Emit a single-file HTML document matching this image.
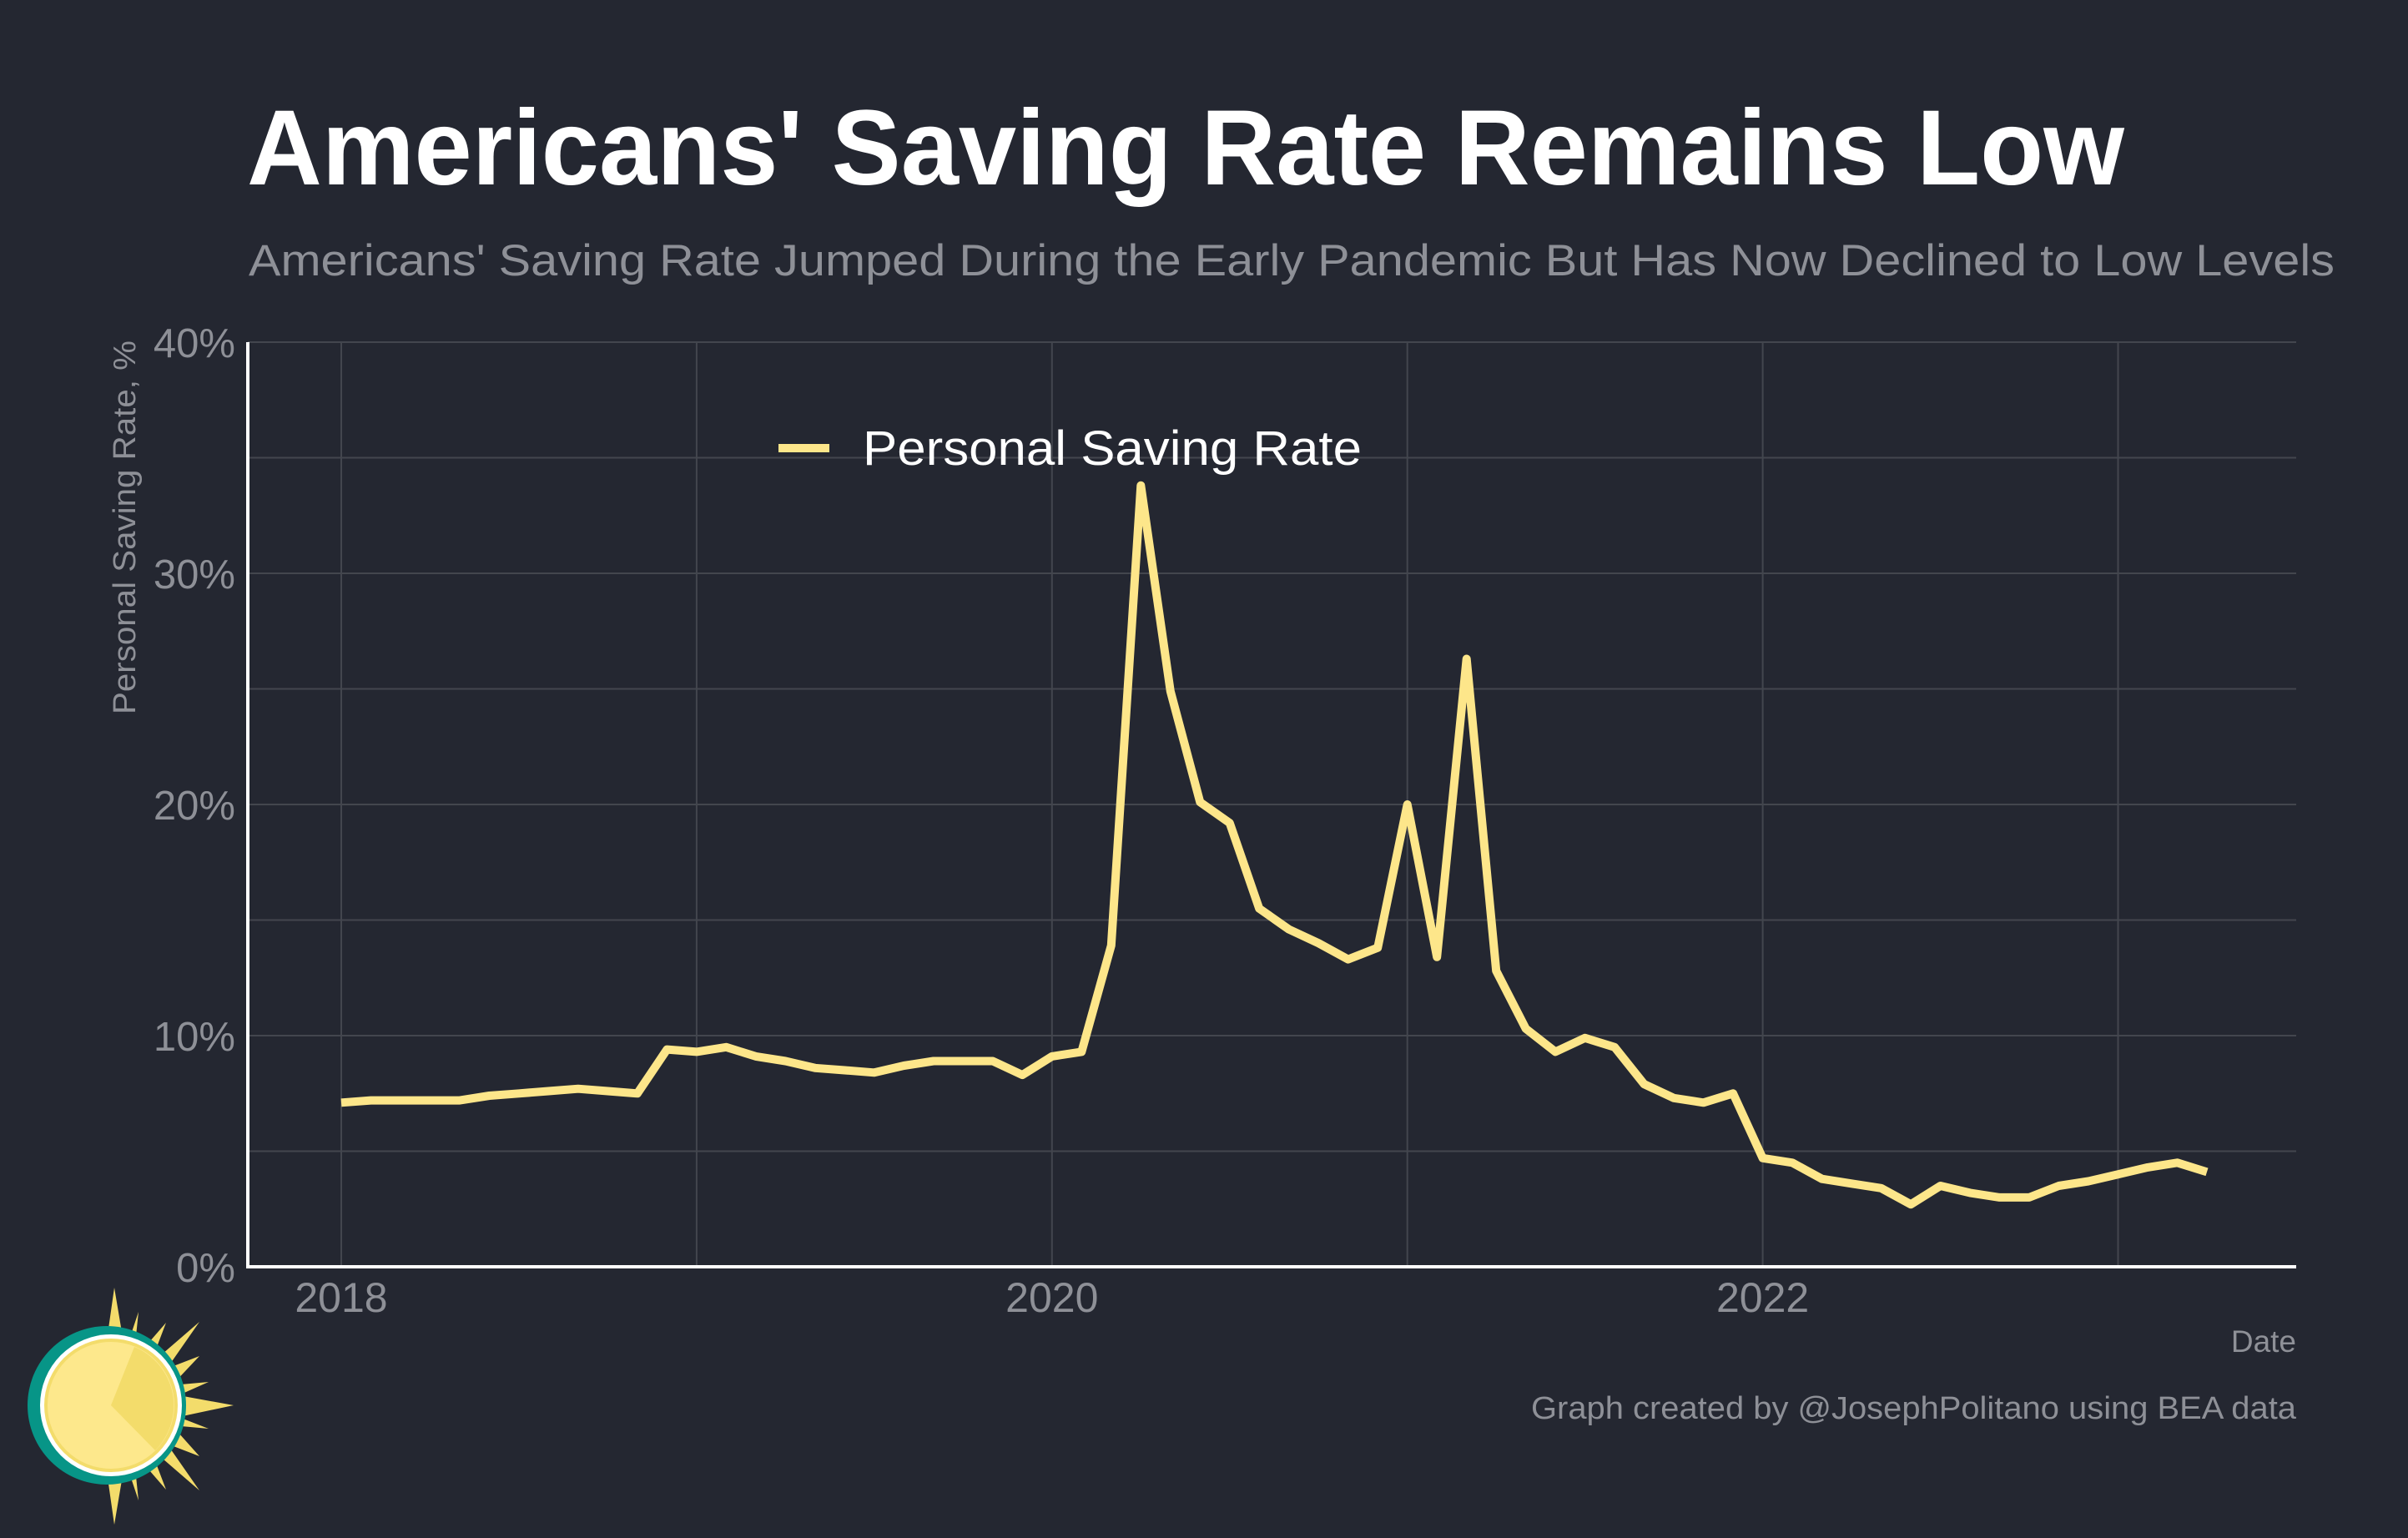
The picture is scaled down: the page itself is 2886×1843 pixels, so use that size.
<!DOCTYPE html>
<html><head><meta charset="utf-8"><style>
html,body{margin:0;padding:0;background:#242731;}
svg{display:block;font-family:"Liberation Sans",sans-serif;}
</style></head><body>
<svg id="chart" width="2886" height="1843" viewBox="0 0 2886 1843" xmlns="http://www.w3.org/2000/svg">
<rect x="0" y="0" width="2886" height="1843" fill="#242731"/>
<text x="296" y="221" font-size="128" font-weight="bold" fill="#ffffff" textLength="2250" lengthAdjust="spacingAndGlyphs">Americans' Saving Rate Remains Low</text>
<text x="298" y="330" font-size="53" fill="#8e9097" textLength="2500" lengthAdjust="spacingAndGlyphs">Americans' Saving Rate Jumped During the Early Pandemic But Has Now Declined to Low Levels</text>
<g id="grid"></g>
<g id="yticks"></g>
<g id="xticks"></g>
<line x1="297" y1="410" x2="297" y2="1520" stroke="#ffffff" stroke-width="4"/>
<line x1="295" y1="1518" x2="2752" y2="1518" stroke="#ffffff" stroke-width="4"/>
<text transform="translate(162,632) rotate(-90)" text-anchor="middle" font-size="38" fill="#8e9097" textLength="448" lengthAdjust="spacingAndGlyphs">Personal Saving Rate, %</text>
<text x="2752" y="1620" text-anchor="end" font-size="37" fill="#8e9097">Date</text>
<text x="2752" y="1700" text-anchor="end" font-size="38" fill="#8e9097" textLength="917" lengthAdjust="spacingAndGlyphs">Graph created by @JosephPolitano using BEA data</text>
<path id="series" fill="none" stroke="#fde68a" stroke-width="10" stroke-linejoin="round"/>
<line x1="933" y1="537" x2="994" y2="537" stroke="#fde68a" stroke-width="10"/>
<text x="1034" y="557" font-size="58" fill="#ffffff" textLength="598" lengthAdjust="spacingAndGlyphs">Personal Saving Rate</text>
<g>
<polygon fill="#f3dc6b" points="137,1543 150,1620 166,1572 160,1630 199,1585 180,1635 239,1584 200,1640 239,1625 206,1660 250,1656 214,1672 280,1684 214,1698 250,1712 206,1708 239,1745 200,1730 239,1786 180,1735 199,1785 160,1740 166,1798 150,1750 137,1827 126,1750 126,1620"/>
<circle cx="128" cy="1684" r="95" fill="#079587"/>
<circle cx="133" cy="1684" r="85" fill="#ffffff"/>
<circle cx="133" cy="1684" r="80" fill="#f3dc6b"/>
<circle cx="133" cy="1684" r="76" fill="#fde88c"/>
<path d="M133,1684 L161,1614 A76,76 0 0 1 186,1738 Z" fill="#f3dc6b"/>
</g>
</svg>
<script>
const yTicks = [0, 10, 20, 30, 40];
const yTickLabels = ["0%", "10%", "20%", "30%", "40%"];
const xTickYears = [2018, 2020, 2022];
const xGridYears = [2018, 2019, 2020, 2021, 2022, 2023];
const startYear = 2018;
const savingRate = [
7.1,7.2,7.2,7.2,7.2,7.4,7.5,7.6,7.7,7.6,7.5,9.4,
9.3,9.5,9.1,8.9,8.6,8.5,8.4,8.7,8.9,8.9,8.9,8.3,
9.1,9.3,13.9,33.8,24.9,20.1,19.2,15.5,14.6,14.0,13.3,13.8,
20.0,13.4,26.3,12.8,10.3,9.3,9.9,9.5,7.9,7.3,7.1,7.5,
4.7,4.5,3.8,3.6,3.4,2.7,3.5,3.2,3.0,3.0,3.5,3.7,
4.0,4.3,4.5,4.1
];
const NS = "http://www.w3.org/2000/svg";
function xScale(yearFrac){ return 409 + (yearFrac - startYear) * 425.9; }
function yScale(v){ return 1518 - v * 27.7; }
const grid = document.getElementById('grid');
for (let v = 0; v <= 40; v += 5) {
  const l = document.createElementNS(NS,'line');
  
  
  l.setAttribute('x1', 297); l.setAttribute('x2', 2752);
  l.setAttribute('y1', yScale(v)); l.setAttribute('y2', yScale(v));
  l.setAttribute('stroke', '#43464e'); l.setAttribute('stroke-width', 2);
  grid.appendChild(l);
}
xGridYears.forEach(y => {
  const l = document.createElementNS(NS,'line');
  
  
  l.setAttribute('x1', xScale(y)); l.setAttribute('x2', xScale(y));
  l.setAttribute('y1', 410); l.setAttribute('y2', 1518);
  l.setAttribute('stroke', '#43464e'); l.setAttribute('stroke-width', 2);
  grid.appendChild(l);
});
const yt = document.getElementById('yticks');
yTicks.forEach((v,i) => {
  const t = document.createElementNS(NS,'text');
  
  
  t.setAttribute('x', 282); t.setAttribute('y', yScale(v) + 18);
  t.setAttribute('text-anchor', 'end'); t.setAttribute('font-size', 49);
  t.setAttribute('fill', '#8e9097');
  t.textContent = yTickLabels[i];
  yt.appendChild(t);
});
const xt = document.getElementById('xticks');
xTickYears.forEach(y => {
  const t = document.createElementNS(NS,'text');
  
  
  t.setAttribute('x', xScale(y)); t.setAttribute('y', 1572);
  t.setAttribute('text-anchor', 'middle'); t.setAttribute('font-size', 50);
  t.setAttribute('fill', '#8e9097');
  t.textContent = String(y);
  xt.appendChild(t);
});
let d = '';
savingRate.forEach((v,i) => {
  d += (i ? 'L' : 'M') + xScale(startYear + i/12).toFixed(1) + ',' + yScale(v).toFixed(1);
});
document.getElementById('series').setAttribute('d', d);
</script>
</body></html>
